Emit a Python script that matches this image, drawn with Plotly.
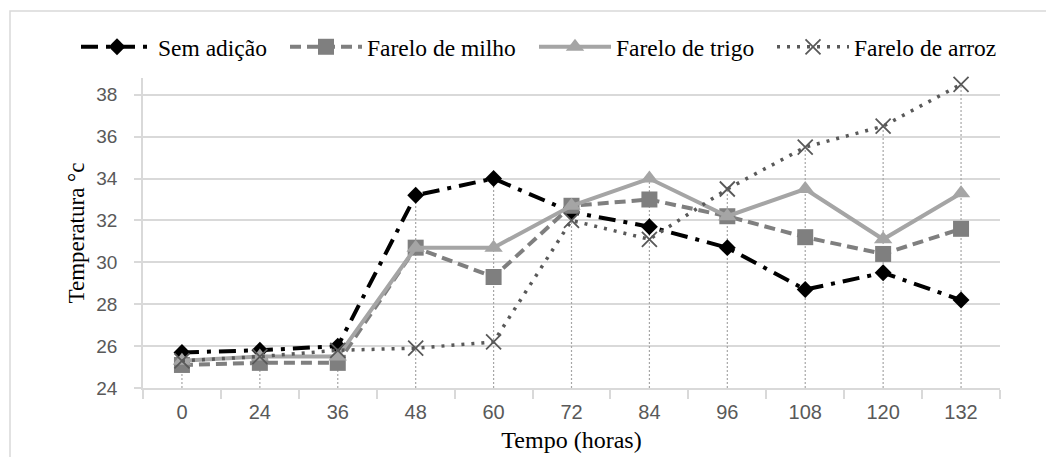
import plotly.graph_objects as go

categories = ["0", "24", "36", "48", "60", "72", "84", "96", "108", "120", "132"]
sem_adicao = [25.7, 25.8, 26.0, 33.2, 34.0, 32.4, 31.7, 30.7, 28.7, 29.5, 28.2]
farelo_milho = [25.1, 25.2, 25.2, 30.7, 29.3, 32.7, 33.0, 32.2, 31.2, 30.4, 31.6]
farelo_trigo = [25.3, 25.5, 25.5, 30.7, 30.7, 32.7, 34.0, 32.2, 33.5, 31.1, 33.3]
farelo_arroz = [25.3, 25.5, 25.8, 25.9, 26.2, 32.0, 31.1, 33.5, 35.5, 36.5, 38.5]
y_ticks = [24, 26, 28, 30, 32, 34, 36, 38]
y_top = 38.8

idx = list(range(len(categories)))
series_all = [sem_adicao, farelo_milho, farelo_trigo, farelo_arroz]

# drop lines (from highest value down to axis)
dx, dy = [], []
for i in idx:
    top = max(s[i] for s in series_all)
    dx += [i, i, None]
    dy += [y_ticks[0], top, None]

SERIF = "Liberation Serif, Times New Roman, serif"
SANS = "Liberation Sans, Arial, sans-serif"

# page body has an 8px margin; figure coords = window coords - 8
OFF = 8
W, H = 1054 - OFF, 457 - OFF
L, R, T, B = 143 - OFF, 54, 78 - OFF, 69
pw, ph = W - L - R, H - T - B

def px_x(p):
    return (p - OFF - L) / pw

def px_y(p):
    return (H - B - (p - OFF)) / ph

fig = go.Figure()
fig.add_trace(go.Scatter(x=dx, y=dy, mode="lines", showlegend=False, hoverinfo="skip",
                         line=dict(color="#a6a6a6", width=1.2, dash="2px,2px")))

fig.add_trace(go.Scatter(x=idx, y=sem_adicao, name="Sem adição", mode="lines+markers",
                         legend="legend",
                         line=dict(color="#000000", width=4, dash="17px,8px,4px,8px"),
                         marker=dict(symbol="diamond", size=13, color="#000000")))
fig.add_trace(go.Scatter(x=idx, y=farelo_milho, name="Farelo de milho", mode="lines+markers",
                         legend="legend2",
                         line=dict(color="#7f7f7f", width=4, dash="11px,6px"),
                         marker=dict(symbol="square", size=16, color="#7f7f7f")))
fig.add_trace(go.Scatter(x=idx, y=farelo_trigo, name="Farelo de trigo", mode="lines+markers",
                         legend="legend3",
                         line=dict(color="#a5a5a5", width=4),
                         marker=dict(symbol="triangle-up", size=16, color="#a5a5a5")))
fig.add_trace(go.Scatter(x=idx, y=farelo_arroz, name="Farelo de arroz", mode="lines+markers",
                         legend="legend4", cliponaxis=False,
                         line=dict(color="#595959", width=3.5, dash="3px,7px"),
                         marker=dict(symbol="x-thin-open", size=15,
                                     line=dict(color="#404040", width=1.8))))

fig.add_shape(type="rect", xref="paper", yref="paper",
              x0=px_x(10), x1=px_x(1080), y0=px_y(480), y1=px_y(11),
              line=dict(color="#d9d9d9", width=1.5), layer="below")

leg_common = dict(orientation="h", xanchor="left", y=px_y(47), yanchor="middle",
                  font=dict(family=SERIF, size=23.5, color="#000000"),
                  itemwidth=72, bgcolor="rgba(0,0,0,0)")
sym_starts = [82, 291, 540, 778]

fig.update_layout(
    width=W, height=H,
    margin=dict(l=L, r=R, t=T, b=B, autoexpand=False),
    paper_bgcolor="white", plot_bgcolor="white",
    legend=dict(x=px_x(sym_starts[0] - 6), **leg_common),
    legend2=dict(x=px_x(sym_starts[1] - 6), **leg_common),
    legend3=dict(x=px_x(sym_starts[2] - 6), **leg_common),
    legend4=dict(x=px_x(sym_starts[3] - 6), **leg_common),
    xaxis=dict(
        range=[-0.5, len(categories) - 0.5],
        tickvals=idx, ticktext=categories,
        ticks="outside", ticklen=5, tickcolor="rgba(0,0,0,0)",
        tickfont=dict(family=SANS, size=20, color="#595959"),
        showgrid=False, zeroline=False, automargin=False,
        showline=True, linecolor="#d9d9d9", linewidth=1.5,
        minor=dict(tick0=-0.5, dtick=1, ticks="outside", ticklen=9, tickcolor="#d9d9d9",
                   tickwidth=1.5, showgrid=False),
        title=dict(text="Tempo (horas)", standoff=9,
                   font=dict(family=SERIF, size=24, color="#000000")),
    ),
    yaxis=dict(
        range=[y_ticks[0], y_top],
        tickvals=y_ticks,
        ticks="outside", ticklen=7, tickcolor="#d9d9d9", tickwidth=1.5,
        ticklabelstandoff=13,
        tickfont=dict(family=SANS, size=19, color="#595959"),
        showgrid=True, gridcolor="#d9d9d9", gridwidth=1.5, automargin=False,
        zeroline=False, showline=True, linecolor="#d9d9d9", linewidth=1.5,
        title=dict(text="Temperatura °c", standoff=5,
                   font=dict(family=SERIF, size=23, color="#000000")),
    ),
)

fig.write_html("out.html")
